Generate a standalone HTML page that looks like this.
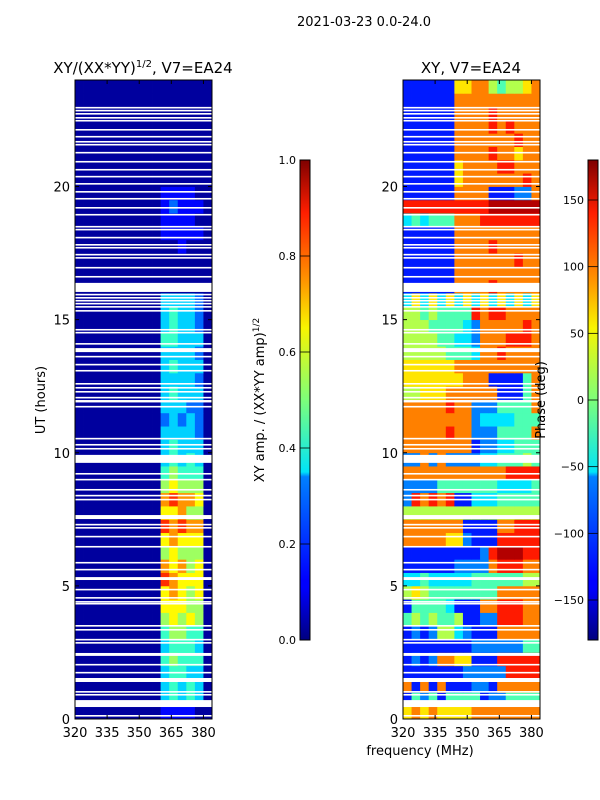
<!DOCTYPE html>
<html><head><meta charset="utf-8">
<style>
html,body{margin:0;padding:0;background:#fff;}
svg{display:block;font-family:"DejaVu Sans","Liberation Sans",sans-serif;}
</style></head>
<body>
<svg id="fig" width="600" height="800" viewBox="0 0 600 800" xmlns="http://www.w3.org/2000/svg">
<defs>
<linearGradient id="jet" x1="0" y1="1" x2="0" y2="0">
<stop offset="0" stop-color="#00007f"/><stop offset="0.11" stop-color="#0000ff"/>
<stop offset="0.125" stop-color="#0000ff"/><stop offset="0.34" stop-color="#0080ff"/>
<stop offset="0.35" stop-color="#00e4f8"/><stop offset="0.5" stop-color="#7dff7a"/>
<stop offset="0.65" stop-color="#f8f500"/><stop offset="0.75" stop-color="#ff9400"/>
<stop offset="0.89" stop-color="#ff1e00"/><stop offset="1" stop-color="#7f0000"/>
</linearGradient>
</defs>
<text x="364" y="26" font-size="13" text-anchor="middle">2021-03-23 0.0-24.0</text>
<g id="left"></g>
<g id="right"></g>
<g id="cb"></g>
<text x="143" y="73" font-size="15" text-anchor="middle">XY/(XX*YY)<tspan font-size="10" dy="-6">1/2</tspan><tspan dy="6">, V7=EA24</tspan></text>
<text x="471" y="73" font-size="15" text-anchor="middle">XY, V7=EA24</text>
<text x="45" y="400" font-size="13" text-anchor="middle" transform="rotate(-90 45 400)">UT (hours)</text>
<text x="420" y="755" font-size="13" text-anchor="middle">frequency (MHz)</text>
<text x="264" y="400" font-size="13" text-anchor="middle" transform="rotate(-90 264 400)">XY amp. / (XX*YY amp)<tspan font-size="9" dy="-5">1/2</tspan></text>
<text x="545" y="400" font-size="13" text-anchor="middle" transform="rotate(-90 545 400)">Phase (deg)</text>
</svg>
<script>
// ---- data ----
const hoursRange = [0, 24];
const freqRange = [320, 384];
const freqTicks = [320, 335, 350, 365, 380];
const hourTicks = [0, 5, 10, 15, 20];
const ampTicks = [0.0, 0.2, 0.4, 0.6, 0.8, 1.0];
const phaseTicks = [-150, -100, -50, 0, 50, 100, 150];
// amplitude rows (0h first), 16 freq bins of 4 MHz, digit/10
const ampRows = [
"0000000000111100","0000000000343430","0000000000343430","0000000000344330",
"0000000000454440","0000000000344430","0000000000455440","0000000000565650",
"0000000000666550","0000000000676560","0000000000876660","0000000000767560",
"0000000000565550","0000000000676660","0000000000878770","0000000000667550",
"0000000000787760","0000000000565550","0000000000454440","0000000000343430",
"0000000000343330","0000000000333320","0000000000232320","0000000000333220",
"0000000000343330","0000000000333320","0000000000343330","0000000000333320",
"0000000000443330","0000000000343320","0000000000343320","0000000000333320",
"0000000000000000","0000000000000000","0000000000000000","0000000000001000",
"0000000000111110","0000000000111100","0000000000121110","0000000000111100",
"0000000000000000","0000000000000000","0000000000000000","0000000000000000",
"0000000000000000","0000000000000000","0000000000000000","0000000000000000"];
// phase rows (0h first), digit d -> -180+(d+0.5)*36 deg
const phaseRows = [
"6767666677777777","1424144441224444","7171711122177777","1111111222228888",
"1212776611188888","1111111122222244","1212553211177777","4545445112288877",
"1444431117788877","5654444444477777","3343333344444455","1111112222788877",
"1111111112899988","7777766211188888","7777777111177888","5555555555555555",
"2878781133344444","2222444444433334","7777777777778888","2272722223344454",
"7777777712233444","7777787722244447","7777777723333444","7777787722244447",
"5566677777711147","6666666777111147","6666667777777777","5555544437787777",
"5555443327778887","5554444327777787","5545444487887777","3636363636363636",
"1111117777877777","1111117777777777","1111117777777877","1111117777877777",
"1111117777777777","3434447778888888","8888888888999999","1111117777111227",
"1111116777777787","1111116777788777","1111117777877677","1111117777777877",
"1111117777878777","1111117777877777","1111117777777777","1111116677545567"];
// white (missing) row bands: start hour and length in hours
const gapStart = [22.93,22.82,22.70,22.55,22.44,22.10,21.84,21.65,21.54,21.24,20.90,20.60,20.34,20.07,19.77,19.51,19.17,18.91,18.46,18.35,18.05,17.78,17.67,17.41,17.29,16.92,16.58,16.04,15.91,15.79,15.68,15.57,15.45,15.30,14.59,14.48,14.06,13.78,13.58,13.28,13.05,12.56,12.41,12.26,12.04,11.92,11.89,11.70,10.50,10.27,10.12,9.62,9.18,8.96,8.58,8.36,8.21,7.51,7.27,7.15,6.82,6.44,5.84,5.58,5.22,4.83,4.52,4.37,4.30,3.47,3.32,2.95,2.83,2.37,2.01,1.71,1.39,0.99,0.88,0.45,0.09];
const gapLen = [0.06,0.06,0.06,0.06,0.06,0.06,0.06,0.06,0.06,0.06,0.06,0.06,0.06,0.06,0.06,0.06,0.06,0.06,0.06,0.06,0.06,0.06,0.06,0.06,0.06,0.06,0.06,0.34,0.06,0.06,0.06,0.06,0.06,0.06,0.06,0.06,0.06,0.15,0.06,0.06,0.06,0.06,0.06,0.06,0.06,0.06,0.06,0.06,0.06,0.06,0.06,0.30,0.06,0.06,0.06,0.06,0.06,0.15,0.06,0.06,0.06,0.06,0.06,0.06,0.11,0.06,0.06,0.06,0.06,0.06,0.06,0.06,0.06,0.11,0.06,0.06,0.15,0.06,0.06,0.26,0.06];

// ---- helpers ----
const NS = "http://www.w3.org/2000/svg";
function jet(v){
  v=Math.max(0,Math.min(1,v));
  const r=Math.max(0,Math.min(1,1.5-Math.abs(4*v-3)));
  const g=Math.max(0,Math.min(1,1.5-Math.abs(4*v-2)));
  const b=Math.max(0,Math.min(1,1.5-Math.abs(4*v-1)));
  return `rgb(${Math.round(r*255)},${Math.round(g*255)},${Math.round(b*255)})`;
}
function mk(tag, attrs, parent){
  const e=document.createElementNS(NS,tag);
  for(const k in attrs) e.setAttribute(k,attrs[k]);
  parent.appendChild(e); return e;
}
const TOP=80, BOT=719;
const yScale = h => BOT - (h-hoursRange[0])/(hoursRange[1]-hoursRange[0])*(BOT-TOP);

function panel(g, x0, x1, rows, valFn, name){
  const xScale = f => x0 + (f-freqRange[0])/(freqRange[1]-freqRange[0])*(x1-x0);
  const nr=rows.length;
  rows.forEach((row,i)=>{
    const h0=hoursRange[0]+i*(hoursRange[1]-hoursRange[0])/nr;
    const h1=h0+(hoursRange[1]-hoursRange[0])/nr;
    const nc=row.length;
    for(let j=0;j<nc;j++){
      const f0=freqRange[0]+j*(freqRange[1]-freqRange[0])/nc;
      const f1=f0+(freqRange[1]-freqRange[0])/nc;
      const r=mk('rect',{x:xScale(f0),y:yScale(h1),width:xScale(f1)-xScale(f0)+0.4,height:yScale(h0)-yScale(h1)+0.4,fill:jet(valFn(+row[j]))},g);
      
      
    }
  });
  gapStart.forEach((s,k)=>{
    const r=mk('rect',{x:x0,y:yScale(s+gapLen[k]),width:x1-x0,height:yScale(s)-yScale(s+gapLen[k]),fill:'#fff'},g);
    
    
  });
  const fr=mk('rect',{x:x0,y:TOP,width:x1-x0,height:BOT-TOP,fill:'none',stroke:'#000','stroke-width':1},g);
  
  
  freqTicks.forEach(f=>{
    const x=xScale(f);
    mk('line',{x1:x,x2:x,y1:BOT,y2:BOT-4,stroke:'#000'},g);
    mk('line',{x1:x,x2:x,y1:TOP,y2:TOP+4,stroke:'#000'},g);
    const t=mk('text',{x:x,y:BOT+18,'font-size':13,'text-anchor':'middle'},g);
    t.textContent=f;
    
    
  });
  hourTicks.forEach(h=>{
    const y=yScale(h);
    mk('line',{x1:x0,x2:x0+4,y1:y,y2:y,stroke:'#000'},g);
    mk('line',{x1:x1,x2:x1-4,y1:y,y2:y,stroke:'#000'},g);
    const t=mk('text',{x:x0-5,y:y+5,'font-size':13,'text-anchor':'end'},g);
    t.textContent=h;
    
    
  });
}
panel(document.getElementById('left'),75,212,ampRows,d=>(d+0.3)/10,'amp');
panel(document.getElementById('right'),403,540,phaseRows,d=>(d+0.5)/10,'phase');

function colorbar(x, ticks, lo, hi, fmt, name){
  const g=document.getElementById('cb');
  const y0=160,y1=640;
  const r=mk('rect',{x:x,y:y0,width:10,height:y1-y0,fill:'url(#jet)',stroke:'#000','stroke-width':1},g);
  
  
  ticks.forEach(v=>{
    const y=y1-(v-lo)/(hi-lo)*(y1-y0);
    mk('line',{x1:x,x2:x+10,y1:y,y2:y,stroke:'#000','stroke-width':0.8},g);
    const t=mk('text',{x:x-4,y:y+4,'font-size':11,'text-anchor':'end'},g);
    t.textContent=fmt(v);
    
    
  });
}
colorbar(300, ampTicks, 0, 1, v=>v.toFixed(1), 'amp-colorbar');
colorbar(588, phaseTicks, -180, 180, v=>String(v).replace('-','\u2212'), 'phase-colorbar');
</script>
</body></html>
